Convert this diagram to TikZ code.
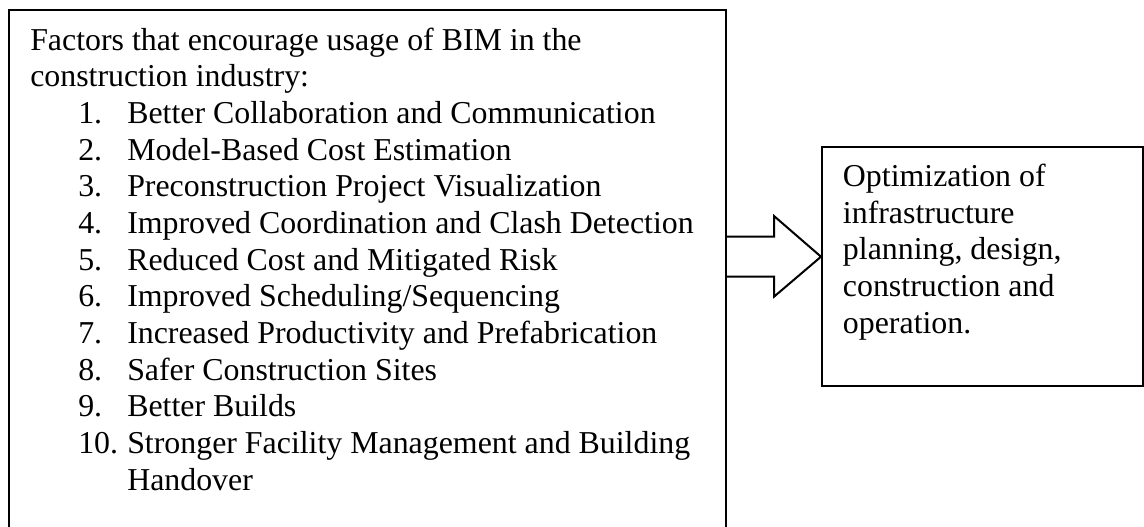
\documentclass[tikz,border=0pt]{standalone}
\usepackage{fontspec}
\setmainfont{Liberation Serif}
\usetikzlibrary{fit,calc}
\tikzset{
  frame/.style={draw=black, line width=1.5pt, inner sep=0pt},
  txt/.style={anchor=base west, inner sep=0pt, font=\fontsize{23.9}{27.5}\selectfont},
  blockarrow/.style={draw=black, line width=1.5pt, line join=miter},
}
\begin{document}
\begin{tikzpicture}[x=0.75pt,y=-0.75pt]
\useasboundingbox (0,0) rectangle (1144,526);

% corners of the two boxes
\coordinate (fnw) at (9,10);
\coordinate (fse) at (726,532);
\coordinate (onw) at (822,146.7);
\coordinate (ose) at (1142.7,386);

\node[frame, fit=(fnw)(fse)] (factors) {};
\node[frame, fit=(onw)(ose)] (outcome) {};

% list of factors
\node[txt] (h1) at (30,50) {Factors that encourage usage of BIM in the};
\node[txt] (h2) at (30,86.67) {construction industry:};
\foreach \t [count=\i] in {
  Better Collaboration and Communication,
  Model-Based Cost Estimation,
  Preconstruction Project Visualization,
  Improved Coordination and Clash Detection,
  Reduced Cost and Mitigated Risk,
  Improved Scheduling/Sequencing,
  Increased Productivity and Prefabrication,
  Safer Construction Sites,
  Better Builds,
  Stronger Facility Management and Building}{
  \node[txt] (num\i) at (78,{50+(\i+1)*36.67}) {\i.};
  \node[txt] (item\i) at (127,{50+(\i+1)*36.67}) {\t};
}
\node[txt] (item10b) at (127,490) {Handover};

% outcome text
\foreach \t [count=\i from 0] in {
  Optimization of,
  infrastructure,
  {planning, design,},
  construction and,
  operation.}{
  \node[txt] (out\i) at (842.7,{186.5+\i*36.67}) {\t};
}

% block arrow from the factors box to the outcome box
\coordinate (a1) at ($(factors.east |- 0,236.7)$);
\coordinate (a2) at (774,236.7);
\coordinate (a3) at (774,216);
\coordinate (tip) at ($(outcome.west |- 0,256.7)$);
\coordinate (a5) at (774,296.7);
\coordinate (a6) at (774,276.7);
\coordinate (a7) at ($(factors.east |- 0,276.7)$);
\draw[blockarrow] (a1) -- (a2) -- (a3) -- (tip) -- (a5) -- (a6) -- (a7);
\end{tikzpicture}
\end{document}
